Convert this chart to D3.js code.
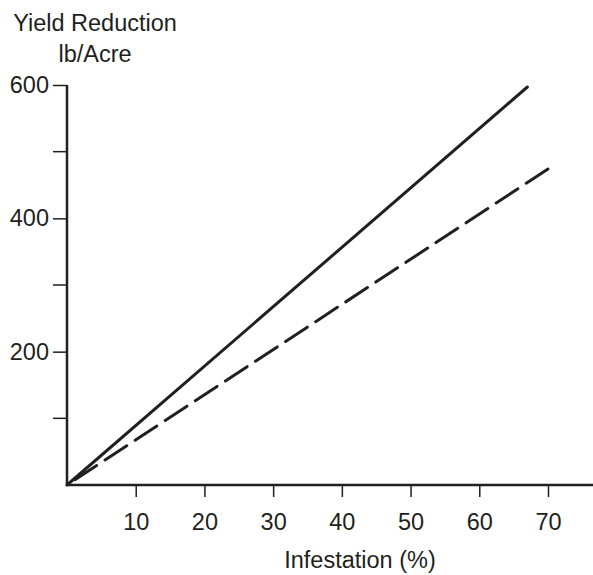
<!DOCTYPE html>
<html>
<head>
<meta charset="utf-8">
<script src="https://cdn.jsdelivr.net/npm/d3@7"></script>
<style>
  body { margin: 0; background: #fff; }
  text { font-family: "Liberation Sans", Arial, sans-serif; fill: #231f20; }
</style>
</head>
<body>
<script>
// data
const solidLine = [[0, 0], [67, 597]];
const dashedLine = [[0, 0], [70, 474]];
const xTicks = [10, 20, 30, 40, 50, 60, 70];
const yTicks = [200, 400, 600];
const yMinor = [100, 300, 500];

const width = 593;
const height = 575;
const ink = "#231f20";
const fs = 23.5;

const svg = d3.select("body")
    .append("svg")
    .attr("width", width)
    .attr("height", height);

// X scale
const x = d3.scaleLinear()
    .domain([0, 70])
    .range([67, 548]);

// Y scale
const y = d3.scaleLinear()
    .domain([0, 600])
    .range([485, 85]);

// x axis
const xAxis = svg.append("g")
    .attr("transform", `translate(0,${y(0)})`)
    .call(d3.axisBottom(x).tickValues(xTicks).tickSize(12).tickPadding(16).tickSizeOuter(0));
xAxis.select(".domain").remove();
xAxis.append("line")
    .attr("x1", x(0)).attr("x2", width)
    .attr("stroke", ink).attr("stroke-width", 2.5);
xAxis.selectAll(".tick line").attr("stroke", ink).attr("stroke-width", 1.5);
xAxis.selectAll(".tick text").attr("font-size", fs).attr("fill", ink);

// y axis
const yAxis = svg.append("g")
    .attr("transform", `translate(${x(0)},0)`)
    .call(d3.axisLeft(y).tickValues(yTicks).tickSize(14).tickPadding(4).tickSizeOuter(0));
yAxis.select(".domain").remove();
yAxis.append("line")
    .attr("y1", y(600)).attr("y2", y(0) + 1)
    .attr("stroke", ink).attr("stroke-width", 2.5);
yAxis.selectAll(".tick line").attr("stroke", ink).attr("stroke-width", 1.5);
yAxis.selectAll(".tick text").attr("font-size", fs).attr("fill", ink);

// minor ticks
yAxis.selectAll(".minor")
    .data(yMinor)
    .enter()
    .append("line")
    .attr("x1", -14).attr("x2", 0)
    .attr("y1", d => y(d)).attr("y2", d => y(d))
    .attr("stroke", ink).attr("stroke-width", 1.5);

// lines
const line = d3.line()
    .x(d => x(d[0]))
    .y(d => y(d[1]));

svg.append("path")
    .datum(solidLine)
    .attr("fill", "none")
    .attr("stroke", ink)
    .attr("stroke-width", 3)
    .attr("stroke-linecap", "round")
    .attr("d", line);

const dashed = svg.append("path")
    .datum(dashedLine)
    .attr("fill", "none")
    .attr("stroke", ink)
    .attr("stroke-width", 3)
    .attr("stroke-dasharray", "26,10")
    .attr("stroke-linecap", "round")
    .attr("d", line);

// make the dash pattern end on a dash
const len = dashed.node().getTotalLength();
dashed.attr("stroke-dashoffset", (((26 - len) % 36) + 36) % 36);

// axis titles
svg.append("text")
    .attr("x", 95).attr("y", 31)
    .attr("text-anchor", "middle")
    .attr("font-size", fs)
    .text("Yield Reduction");

svg.append("text")
    .attr("x", 95).attr("y", 62)
    .attr("text-anchor", "middle")
    .attr("font-size", fs)
    .text("lb/Acre");

svg.append("text")
    .attr("x", 360).attr("y", 568)
    .attr("text-anchor", "middle")
    .attr("font-size", fs)
    .text("Infestation (%)");
</script>
</body>
</html>
